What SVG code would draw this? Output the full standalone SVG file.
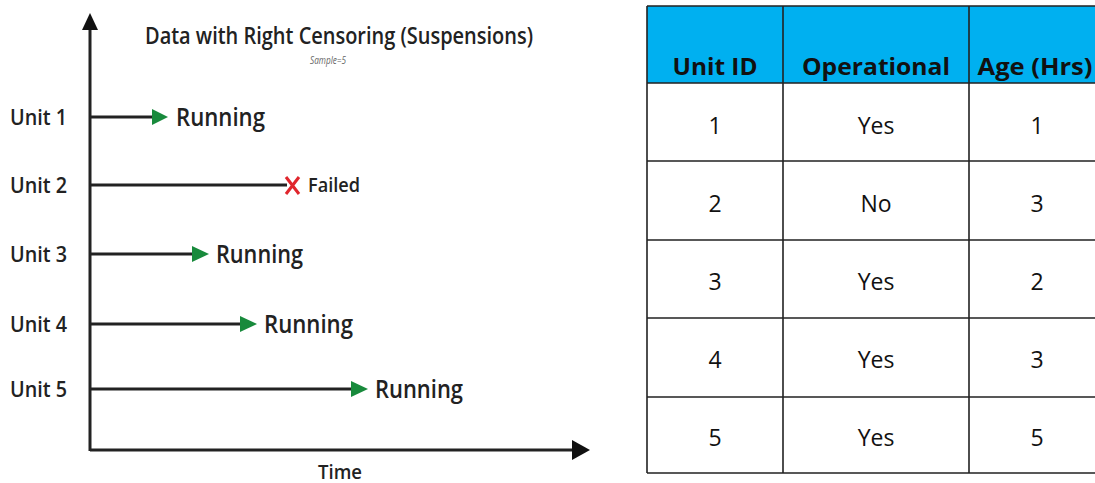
<svg xmlns="http://www.w3.org/2000/svg" width="1095" height="483" viewBox="0 0 1095 483">
<style>
.lbl{font-family:"Open Sans","Liberation Sans",sans-serif;font-weight:600;fill:#222}
.run{font-family:"Open Sans","Liberation Sans",sans-serif;font-weight:600;fill:#222;font-size:26px}
.ln{stroke:#222;stroke-width:3;fill:none}
.hd{font-family:"Open Sans","Liberation Sans",sans-serif;font-weight:700;font-size:23px;fill:#111;text-anchor:middle}
.bd{font-family:"Open Sans","Liberation Sans",sans-serif;font-size:23px;fill:#111;text-anchor:middle}
.grid{stroke:#222;stroke-width:1.6;fill:none}
</style>
<g id="axes">
<line class="ln" x1="90" y1="451" x2="90" y2="26"/>
<line class="ln" x1="90" y1="450" x2="574" y2="450"/>
<path d="M572,440 L590,450 L572,460 z" fill="#111"/>
<path d="M82,30 L90,13 L98,30 z" fill="#111"/>
<text class="lbl" x="340" y="479" font-size="19" text-anchor="middle" textLength="44" lengthAdjust="spacingAndGlyphs">Time</text>
</g>
<g id="title">
<text class="lbl" x="145" y="44" font-size="23" textLength="388" lengthAdjust="spacingAndGlyphs">Data with Right Censoring (Suspensions)</text>
<text x="328" y="64" font-family="Open Sans,Liberation Sans,sans-serif" font-style="italic" font-size="11" fill="#666" text-anchor="middle" textLength="36" lengthAdjust="spacingAndGlyphs">Sample=5</text>
</g>
<g id="connectors">
<line class="ln" x1="90" y1="117" x2="153" y2="117"/>
<path d="M152,109 L168,117 L152,125 z" fill="#188a3c"/>
<line class="ln" x1="90" y1="185" x2="287" y2="185"/>
<line class="ln" x1="90" y1="254" x2="193" y2="254"/>
<path d="M192,246 L209,254 L192,262 z" fill="#188a3c"/>
<line class="ln" x1="90" y1="324" x2="241" y2="324"/>
<path d="M240,316 L257,324 L240,332 z" fill="#188a3c"/>
<line class="ln" x1="90" y1="389" x2="352" y2="389"/>
<path d="M351,381 L368,389 L351,397 z" fill="#188a3c"/>
</g>
<g id="unit1"><text class="lbl" x="10" y="125" font-size="22" textLength="57" lengthAdjust="spacingAndGlyphs">Unit 1</text>
<text class="run" x="176" y="126" textLength="89" lengthAdjust="spacingAndGlyphs">Running</text></g>
<g id="unit2"><text class="lbl" x="10" y="193" font-size="22" textLength="57" lengthAdjust="spacingAndGlyphs">Unit 2</text>
<path d="M286,177 L299,194 M299,177 L286,194" stroke="#e0262d" stroke-width="3" fill="none"/>
<text class="lbl" x="308" y="192" font-size="19" textLength="52" lengthAdjust="spacingAndGlyphs">Failed</text></g>
<g id="unit3"><text class="lbl" x="10" y="262" font-size="22" textLength="57" lengthAdjust="spacingAndGlyphs">Unit 3</text>
<text class="run" x="216" y="263" textLength="87" lengthAdjust="spacingAndGlyphs">Running</text></g>
<g id="unit4"><text class="lbl" x="10" y="332" font-size="22" textLength="57" lengthAdjust="spacingAndGlyphs">Unit 4</text>
<text class="run" x="264" y="333" textLength="89" lengthAdjust="spacingAndGlyphs">Running</text></g>
<g id="unit5"><text class="lbl" x="10" y="397" font-size="22" textLength="57" lengthAdjust="spacingAndGlyphs">Unit 5</text>
<text class="run" x="375" y="398" textLength="88" lengthAdjust="spacingAndGlyphs">Running</text></g>
<g id="table">
<rect x="647" y="6" width="460" height="77" fill="#00b0f0"/>
<rect x="647" y="83" width="460" height="390" fill="#fff"/>
<path class="grid" d="M647,6 H1107 M647,83 H1107 M647,161 H1107 M647,240 H1107 M647,318 H1107 M647,397 H1107 M647,473 H1107 M647,6 V473 M783,6 V473 M969,6 V473"/>
<text class="hd" x="715" y="75" textLength="85" lengthAdjust="spacingAndGlyphs">Unit ID</text>
<text class="hd" x="876" y="75" textLength="148" lengthAdjust="spacingAndGlyphs">Operational</text>
<text class="hd" x="1035" y="75" textLength="115" lengthAdjust="spacingAndGlyphs">Age (Hrs)</text>
<text class="bd" x="715" y="134">1</text><text class="bd" x="876" y="134">Yes</text><text class="bd" x="1037" y="134">1</text>
<text class="bd" x="715" y="212">2</text><text class="bd" x="876" y="212">No</text><text class="bd" x="1037" y="212">3</text>
<text class="bd" x="715" y="290">3</text><text class="bd" x="876" y="290">Yes</text><text class="bd" x="1037" y="290">2</text>
<text class="bd" x="715" y="368">4</text><text class="bd" x="876" y="368">Yes</text><text class="bd" x="1037" y="368">3</text>
<text class="bd" x="715" y="446">5</text><text class="bd" x="876" y="446">Yes</text><text class="bd" x="1037" y="446">5</text>
</g>
</svg>
